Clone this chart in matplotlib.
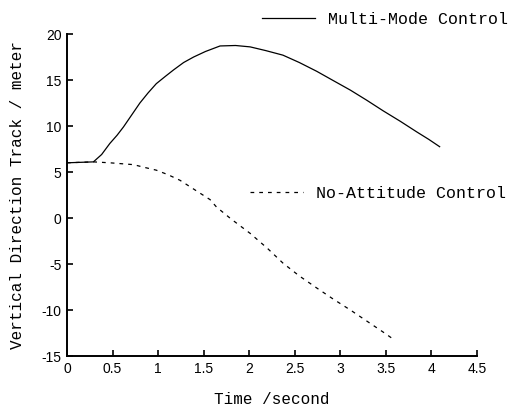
import matplotlib
matplotlib.use("Agg")
import matplotlib.pyplot as plt
from matplotlib.lines import Line2D

# Data
t_multi = [0.0, 0.29, 0.38, 0.47, 0.55, 0.62, 0.71, 0.80, 0.89, 0.98, 1.08, 1.17, 1.28, 1.39,
           1.52, 1.68, 1.85, 2.01, 2.18, 2.37, 2.55, 2.74, 2.92, 3.11, 3.29, 3.47, 3.66, 3.84, 3.97, 4.09]
y_multi = [6.0, 6.1, 6.9, 8.1, 9.0, 9.9, 11.2, 12.5, 13.6, 14.6, 15.4, 16.1, 16.9, 17.5,
           18.1, 18.7, 18.75, 18.6, 18.2, 17.7, 16.9, 15.95, 14.95, 13.9, 12.8, 11.65, 10.5, 9.35, 8.55, 7.75]

t_none = [0.0, 0.29, 0.47, 0.6, 0.73, 0.85, 0.98, 1.11, 1.24, 1.35, 1.46, 1.57, 1.64, 1.8,
          2.01, 2.2, 2.37, 2.55, 2.74, 2.92, 3.11, 3.29, 3.47, 3.60]
y_none = [6.0, 6.1, 6.0, 5.9, 5.8, 5.5, 5.2, 4.7, 4.1, 3.4, 2.7, 2.0, 1.2, -0.1,
          -1.67, -3.3, -4.9, -6.3, -7.6, -8.8, -10.0, -11.2, -12.4, -13.3]

xticks = [0, 0.5, 1, 1.5, 2, 2.5, 3, 3.5, 4, 4.5]
xtick_labels = ["0", "0.5", "1", "1.5", "2", "2.5", "3", "3.5", "4", "4.5"]
yticks = [-15, -10, -5, 0, 5, 10, 15, 20]
ytick_labels = ["-15", "-10", "-5", "0", "5", "10", "15", "20"]

label_multi = "Multi-Mode Control"
label_none = "No-Attitude Control"
xlabel = "Time /second"
ylabel = "Vertical Direction Track / meter"

W, H = 512, 411
fig = plt.figure(figsize=(W / 100, H / 100), dpi=100)
ax = fig.add_axes([67 / W, 1 - 356 / H, (477 - 67) / W, (356 - 34) / H])

mono = "Liberation Mono"
sans = "Liberation Sans"

l1, = ax.plot(t_multi, y_multi, color="black", lw=0.9, solid_joinstyle="round")
l2, = ax.plot(t_none, y_none, color="black", lw=0.9, linestyle=(0, (3, 4)))

ax.set_xlim(0, 4.5)
ax.set_ylim(-15, 20)
ax.set_xticks(xticks)
ax.set_xticklabels(xtick_labels, fontfamily=sans, fontsize=10)
ax.set_yticks(yticks)
ax.set_yticklabels(ytick_labels, fontfamily=sans, fontsize=10)
ax.tick_params(direction="in", length=4, width=1.2, pad=4)
for s in ["top", "right"]:
    ax.spines[s].set_visible(False)
for s in ["left", "bottom"]:
    ax.spines[s].set_linewidth(1.4)

ax.set_xlabel(xlabel, fontfamily=mono, fontsize=11.5, labelpad=12)
ax.set_ylabel(ylabel, fontfamily=mono, fontsize=11.5, labelpad=12)

leg_kw = dict(frameon=False, borderpad=0, borderaxespad=0, handlelength=3.2,
              handletextpad=0.75, prop={"family": mono, "size": 12},
              bbox_transform=fig.transFigure, loc="center left")
leg1 = ax.legend([l1], [label_multi], bbox_to_anchor=(262 / W, 1 - 19 / H), **leg_kw)
ax.add_artist(leg1)
leg2 = ax.legend([Line2D([], [], color="black", lw=0.9, linestyle=(0, (3, 4)))], [label_none],
                 bbox_to_anchor=(250 / W, 1 - 193 / H), **leg_kw)

fig.savefig("out.png", dpi=100)
